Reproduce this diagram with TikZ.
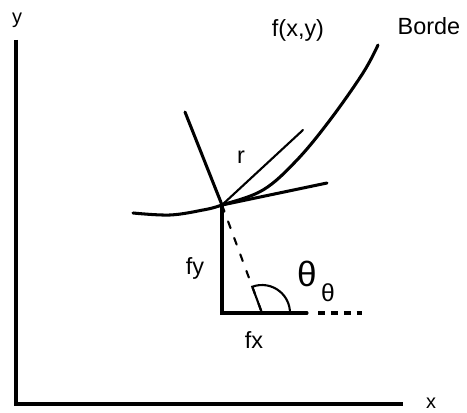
\documentclass[tikz,border=0pt]{standalone}
\usepackage{fontspec}
\setmainfont{Liberation Sans}
\usetikzlibrary{calc}

\begin{document}
\begin{tikzpicture}[x=0.03cm, y=0.03cm, line cap=round,
    lbl/.style={inner sep=0pt, font=\fontsize{20}{24}\selectfont},
    axislbl/.style={inner sep=0pt, font=\fontsize{17}{20}\selectfont},
    axis/.style={line width=4pt, line cap=butt},
    edge/.style={line width=2.6pt},
    vec/.style={line width=1.8pt}]
    \useasboundingbox (0,0) rectangle (467,412);
    % axes
    \coordinate (ytop) at (16,372);
    \coordinate (orig) at (16,8);
    \coordinate (xend) at (403,8);
    \draw[axis] (ytop) -- (orig) -- (xend);
    \node[axislbl] (ylbl) at (17,392) {y};
    \node[axislbl] (xlbl) at (431,9) {x};
    % border curve
    \coordinate (P) at (222,207);
    \draw[edge] plot[smooth, tension=0.6] coordinates
      {(133,199) (170,197) (203,202) (P) (263,222) (297,252)
       (330,292) (363,339) (378,367)};
    \node[lbl] (fxy) at (298,382) {f(x,y)};
    \node[lbl] (borde) at (429,386) {Borde};
    % normal, tangent and r
    \coordinate (N) at (185,300);
    \coordinate (T) at (327,229);
    \coordinate (R) at (303,282);
    \draw[edge] (N) -- (P);
    \draw[edge] (P) -- (T);
    \draw[vec] (P) -- (R);
    \node[lbl] (rlbl) at (241,255) {r};
    % gradient components
    \coordinate (F) at (222,99);
    \coordinate (V) at (262,99);
    \coordinate (H) at (307,99);
    \coordinate (Hd) at (318,99);
    \coordinate (D) at (362,99);
    \draw[edge] (P) -- (F) -- (H);
    \draw[edge, line cap=butt, dash pattern=on 6pt off 5pt] (Hd) -- (D);
    \draw[vec, dash pattern=on 6pt off 9pt] (P) -- (V);
    \draw[vec] (V) -- ++(110.3:0.84cm)
      arc[start angle=110.3, end angle=0, radius=0.84cm];
    \node[lbl] (fylbl) at (195,144) {fy};
    \node[lbl] (fxlbl) at (254,72) {fx};
    \node[inner sep=0pt, font=\fontsize{30}{34}\selectfont] (thlbl)
      at (307,138) {θ};
    \node[inner sep=0pt, font=\fontsize{21}{24}\selectfont] (thsub)
      at (328,119) {θ};
\end{tikzpicture}
\end{document}
